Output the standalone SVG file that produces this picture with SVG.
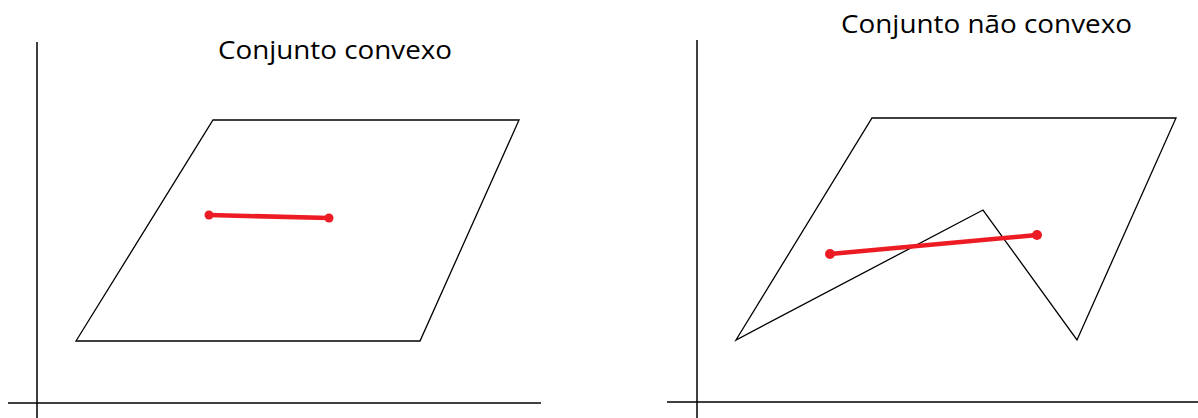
<svg xmlns="http://www.w3.org/2000/svg" width="1198" height="418" viewBox="0 0 1198 418">
<style>
.axis{stroke:#000;stroke-width:1.5;fill:none}
.shape{stroke:#000;stroke-width:1.3;fill:none;stroke-linejoin:miter}
.seg{stroke:#ed1c24;stroke-width:4.5;stroke-linecap:round}
.dot{fill:#ed1c24}
.title{font-family:"Open Sans","Noto Sans",sans-serif;font-size:26px;fill:#000}
</style>
<rect width="1198" height="418" fill="#fff"/>
<g id="left">
<g id="left-axes">
<line class="axis" x1="37" y1="42" x2="37" y2="418"/>
<line class="axis" x1="8" y1="403" x2="541" y2="403"/>
</g>
<text class="title" x="218" y="59" textLength="234" lengthAdjust="spacingAndGlyphs">Conjunto convexo</text>
<polygon id="convex-set" class="shape" points="213,120 519,120 420,341 76,341"/>
<g id="convex-segment">
<line class="seg" x1="209" y1="215" x2="329" y2="218"/>
<circle class="dot" cx="209" cy="215" r="4.5"/>
<circle class="dot" cx="329" cy="218" r="4.5"/>
</g>
</g>
<g id="right">
<g id="right-axes">
<line class="axis" x1="697" y1="40" x2="697" y2="418"/>
<line class="axis" x1="667" y1="402" x2="1198" y2="402"/>
</g>
<text class="title" x="841" y="33" textLength="291" lengthAdjust="spacingAndGlyphs">Conjunto não convexo</text>
<polygon id="nonconvex-set" class="shape" points="872,118 1176,118 1077,340 983,210 736,340"/>
<g id="nonconvex-segment">
<line class="seg" x1="830" y1="254" x2="1037" y2="235"/>
<circle class="dot" cx="830" cy="254" r="5"/>
<circle class="dot" cx="1037" cy="235" r="5"/>
</g>
</g>
</svg>
